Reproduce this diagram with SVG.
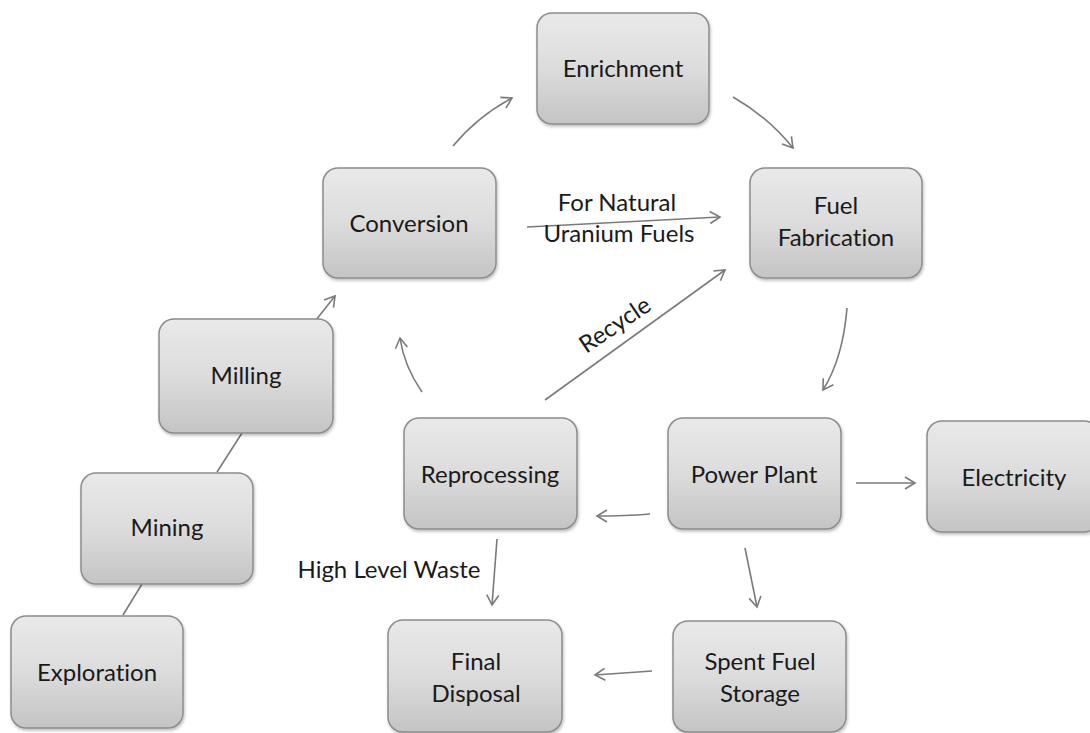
<svg xmlns="http://www.w3.org/2000/svg" width="1090" height="733" viewBox="0 0 1090 733">
<style>
.box{fill:url(#g);stroke:#8c8c8c;stroke-width:1.5;filter:url(#sh)}
.t{font-family:Lato,"Liberation Sans",sans-serif;font-size:24px;fill:#1a1a1a;text-anchor:middle;font-variant-ligatures:none}
.c{fill:none;stroke:#7a7a7a;stroke-width:1.6}
</style>
<defs>
<linearGradient id="g" x1="0" y1="0" x2="0" y2="1">
<stop offset="0" stop-color="#e9e9e9"/>
<stop offset="0.5" stop-color="#dcdcdc"/>
<stop offset="1" stop-color="#c4c4c4"/>
</linearGradient>
<filter id="sh" x="-10%" y="-10%" width="125%" height="125%">
<feDropShadow dx="1" dy="2" stdDeviation="1.5" flood-color="#000" flood-opacity="0.25"/>
</filter>
<marker id="a" markerWidth="14" markerHeight="14" refX="11" refY="7" orient="auto" markerUnits="userSpaceOnUse">
<path d="M1,1 L11,7 L1,13" fill="none" stroke="#7a7a7a" stroke-width="1.6"/>
</marker>
</defs>
<rect width="1090" height="733" fill="#fff"/>
<g id="connectors">
<path class="c" d="M453,146 Q478,116 512,98" marker-end="url(#a)"/>
<path class="c" d="M733,97 Q768,117 793,148" marker-end="url(#a)"/>
<path class="c" d="M527,227 L720,217" marker-end="url(#a)"/>
<path class="c" d="M545,400 L725,270" marker-end="url(#a)"/>
<path class="c" d="M847,308 Q843,358 823,390" marker-end="url(#a)"/>
<path class="c" d="M422,392 Q404,366 400,338" marker-end="url(#a)"/>
<path class="c" d="M316,320 L335,296" marker-end="url(#a)"/>
<path class="c" d="M217,472 L242,433"/>
<path class="c" d="M123,615 L142,584"/>
<path class="c" d="M856,483 L915,483" marker-end="url(#a)"/>
<path class="c" d="M650,514 Q625,516 597,516" marker-end="url(#a)"/>
<path class="c" d="M497,539 L492,605" marker-end="url(#a)"/>
<path class="c" d="M745,548 L757,607" marker-end="url(#a)"/>
<path class="c" d="M652,671 L595,675" marker-end="url(#a)"/>
</g>
<g id="labels">
<text class="t" x="617" y="211">For Natural</text>
<text class="t" x="619" y="242">Uranium Fuels</text>
<text class="t" x="615" y="333" transform="rotate(-34 615 325)">Recycle</text>
<text class="t" x="389" y="578">High Level Waste</text>
</g>
<g id="enrichment"><rect class="box" x="537" y="13" width="172" height="111" rx="15"/><text class="t" x="623" y="77">Enrichment</text></g>
<g id="conversion"><rect class="box" x="323" y="168" width="173" height="110" rx="15"/><text class="t" x="409" y="232">Conversion</text></g>
<g id="fuel-fabrication"><rect class="box" x="750" y="168" width="172" height="110" rx="15"/><text class="t" x="836" y="214">Fuel</text><text class="t" x="836" y="246">Fabrication</text></g>
<g id="milling"><rect class="box" x="159" y="319" width="174" height="114" rx="15"/><text class="t" x="246" y="384">Milling</text></g>
<g id="mining"><rect class="box" x="81" y="473" width="172" height="111" rx="15"/><text class="t" x="167" y="536">Mining</text></g>
<g id="exploration"><rect class="box" x="11" y="616" width="172" height="112" rx="15"/><text class="t" x="97" y="681">Exploration</text></g>
<g id="reprocessing"><rect class="box" x="404" y="418" width="173" height="111" rx="15"/><text class="t" x="490" y="483">Reprocessing</text></g>
<g id="power-plant"><rect class="box" x="668" y="418" width="173" height="111" rx="15"/><text class="t" x="754" y="483">Power Plant</text></g>
<g id="electricity"><rect class="box" x="927" y="421" width="172" height="111" rx="15"/><text class="t" x="1014" y="486">Electricity</text></g>
<g id="final-disposal"><rect class="box" x="388" y="620" width="174" height="112" rx="15"/><text class="t" x="476" y="670">Final</text><text class="t" x="476" y="702">Disposal</text></g>
<g id="spent-fuel-storage"><rect class="box" x="673" y="621" width="173" height="111" rx="15"/><text class="t" x="760" y="670">Spent Fuel</text><text class="t" x="760" y="702">Storage</text></g>
</svg>
